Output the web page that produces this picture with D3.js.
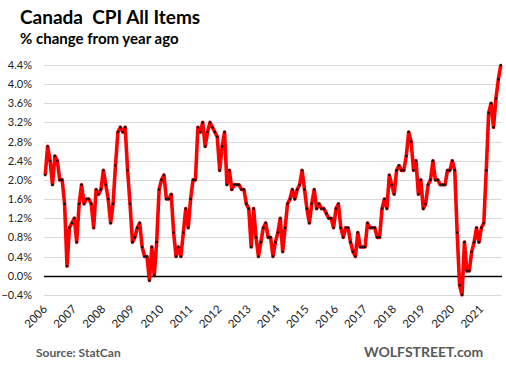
<!DOCTYPE html>
<html>
<head>
<meta charset="utf-8">
<script src="https://cdn.jsdelivr.net/npm/d3@7"></script>
<style>
  body { margin: 0; background: #fff; }
  svg { display: block; }
  text { font-family: Lato, "Open Sans", sans-serif; }
</style>
</head>
<body>
<div id="chart"></div>
<script>
// year labels on the x axis, first month of each is January
var years = ["2006", "2007", "2008", "2009", "2010", "2011", "2012", "2013",
             "2014", "2015", "2016", "2017", "2018", "2019", "2020", "2021"];

// CPI all items, % change from year ago, monthly Jan 2006 - Sep 2021
var cpi = [
  2.1, 2.7, 2.4, 1.9, 2.5, 2.4, 2.0, 2.0, 1.5, 0.2, 1.0, 1.1,
  1.2, 0.7, 1.5, 1.9, 1.5, 1.6, 1.6, 1.5, 1.0, 1.8, 1.7, 1.8,
  2.2, 1.9, 1.6, 1.1, 1.5, 2.3, 3.0, 3.1, 3.0, 3.1, 2.2, 1.5,
  0.7, 0.8, 1.0, 1.1, 0.6, 0.4, 0.4, -0.1, 0.6, 0.0, 0.7, 1.8,
  2.0, 2.1, 1.6, 1.6, 1.7, 0.9, 0.4, 0.6, 0.4, 0.9, 1.4, 1.0,
  1.6, 2.0, 2.0, 3.1, 3.0, 3.2, 2.7, 3.0, 3.2, 3.1, 3.0, 2.9,
  2.2, 2.7, 3.0, 1.9, 2.2, 1.8, 1.9, 1.9, 1.9, 1.8, 1.8, 1.5,
  1.4, 0.6, 1.4, 0.8, 0.4, 0.7, 1.0, 1.1, 0.8, 0.8, 0.4, 0.7,
  0.9, 1.2, 0.5, 1.0, 1.5, 1.6, 1.8, 1.6, 1.8, 1.9, 2.2, 1.8,
  1.4, 1.1, 1.5, 1.8, 1.4, 1.5, 1.4, 1.4, 1.3, 1.2, 1.2, 1.0,
  1.4, 1.5, 1.0, 0.8, 1.0, 1.0, 0.7, 0.5, 0.4, 0.9, 0.6, 0.6,
  0.6, 1.1, 1.0, 1.0, 1.0, 0.8, 0.8, 1.4, 1.6, 1.4, 2.1, 1.9,
  1.7, 2.2, 2.3, 2.2, 2.2, 2.5, 3.0, 2.8, 2.2, 2.4, 1.7, 2.0,
  1.4, 1.5, 1.9, 2.0, 2.4, 2.0, 2.0, 1.9, 1.9, 1.9, 2.2, 2.2,
  2.4, 2.2, 0.9, -0.2, -0.4, 0.7, 0.1, 0.1, 0.5, 0.7, 1.0, 0.7,
  1.0, 1.1, 2.2, 3.4, 3.6, 3.1, 3.7, 4.1, 4.4
];

var yTicks = [-0.4, 0.0, 0.4, 0.8, 1.2, 1.6, 2.0, 2.4, 2.8, 3.2, 3.6, 4.0, 4.4];

var width = 506, height = 372;

// one category per month
var months = cpi.map(function(v, i) { return i; });

var svg = d3.select("#chart").append("svg")
    .attr("width", width)
    .attr("height", height);

var x = d3.scaleBand()
    .domain(months)
    .range([44, 502]);

var y = d3.scaleLinear()
    .domain([-0.4, 4.4])
    .range([294.8, 65]);

function cx(i) { return x(i) + x.bandwidth() / 2; }

// gridlines
svg.append("g")
    .selectAll("line")
    .data(yTicks)
  .enter().append("line")
    .attr("x1", 44)
    .attr("x2", 502)
    .attr("y1", function(d) { return Math.round(y(d)) + 0.5; })
    .attr("y2", function(d) { return Math.round(y(d)) + 0.5; })
    .attr("stroke", function(d) { return d === 0 ? "#000" : "#d9d9d9"; })
    .attr("stroke-width", function(d) { return d === 0 ? 1.5 : 1; });

// y axis labels
var yAxis = d3.axisLeft(y)
    .tickValues(yTicks)
    .tickSize(0)
    .tickPadding(0)
    .tickFormat(function(d) { return d3.format(".1f")(d) + "%"; });

svg.append("g")
    .attr("transform", "translate(32,0)")
    .call(yAxis)
    .call(function(g) { g.select(".domain").remove(); })
    .selectAll("text")
    .attr("font-family", "Lato, sans-serif")
    .attr("font-size", 11)
    .attr("fill", "#222");

// x axis year labels, one on each January
var xAxis = d3.axisBottom(x)
    .tickValues(years.map(function(d, i) { return i * 12; }))
    .tickSize(0)
    .tickFormat(function(d) { return years[d / 12]; });

var xg = svg.append("g")
    .attr("transform", "translate(0,307)")
    .call(xAxis)
    .call(function(g) { g.select(".domain").remove(); });

xg.selectAll("text")
    .attr("font-family", "Lato, sans-serif")
    .attr("font-size", 11.5)
    .attr("fill", "#222")
    .attr("text-anchor", "end")
    .attr("dy", "0.35em")
    .attr("y", 0)
    .attr("transform", "rotate(-45)");

// red line
var line = d3.line()
    .x(function(d, i) { return cx(i); })
    .y(function(d) { return y(d); });

svg.append("path")
    .datum(cpi)
    .attr("d", line)
    .attr("fill", "none")
    .attr("stroke", "#ff0000")
    .attr("stroke-width", 3.6)
    .attr("stroke-linejoin", "round");

// black markers
svg.append("g")
    .selectAll("circle")
    .data(cpi)
  .enter().append("circle")
    .attr("cx", function(d, i) { return cx(i); })
    .attr("cy", function(d) { return y(d); })
    .attr("r", 1.3)
    .attr("fill", "#111");

// titles
svg.append("text")
    .attr("x", 20)
    .attr("y", 24)
    .attr("font-size", 19)
    .attr("font-weight", "bold")
    .attr("fill", "#000")
    .attr("xml:space", "preserve")
    .text("Canada  CPI All Items");

svg.append("text")
    .attr("x", 20)
    .attr("y", 44)
    .attr("font-size", 15)
    .attr("font-weight", "bold")
    .attr("fill", "#000")
    .text("% change from year ago");

// footer
svg.append("text")
    .attr("x", 36)
    .attr("y", 357)
    .attr("font-size", 12)
    .attr("font-weight", "bold")
    .attr("fill", "#595959")
    .text("Source: StatCan");

svg.append("text")
    .attr("x", 364)
    .attr("y", 357)
    .attr("font-family", "'Liberation Sans', Arial, sans-serif")
    .attr("font-size", 14)
    .attr("font-weight", "bold")
    .attr("fill", "#595959")
    .text("WOLFSTREET.com");
</script>
</body>
</html>
